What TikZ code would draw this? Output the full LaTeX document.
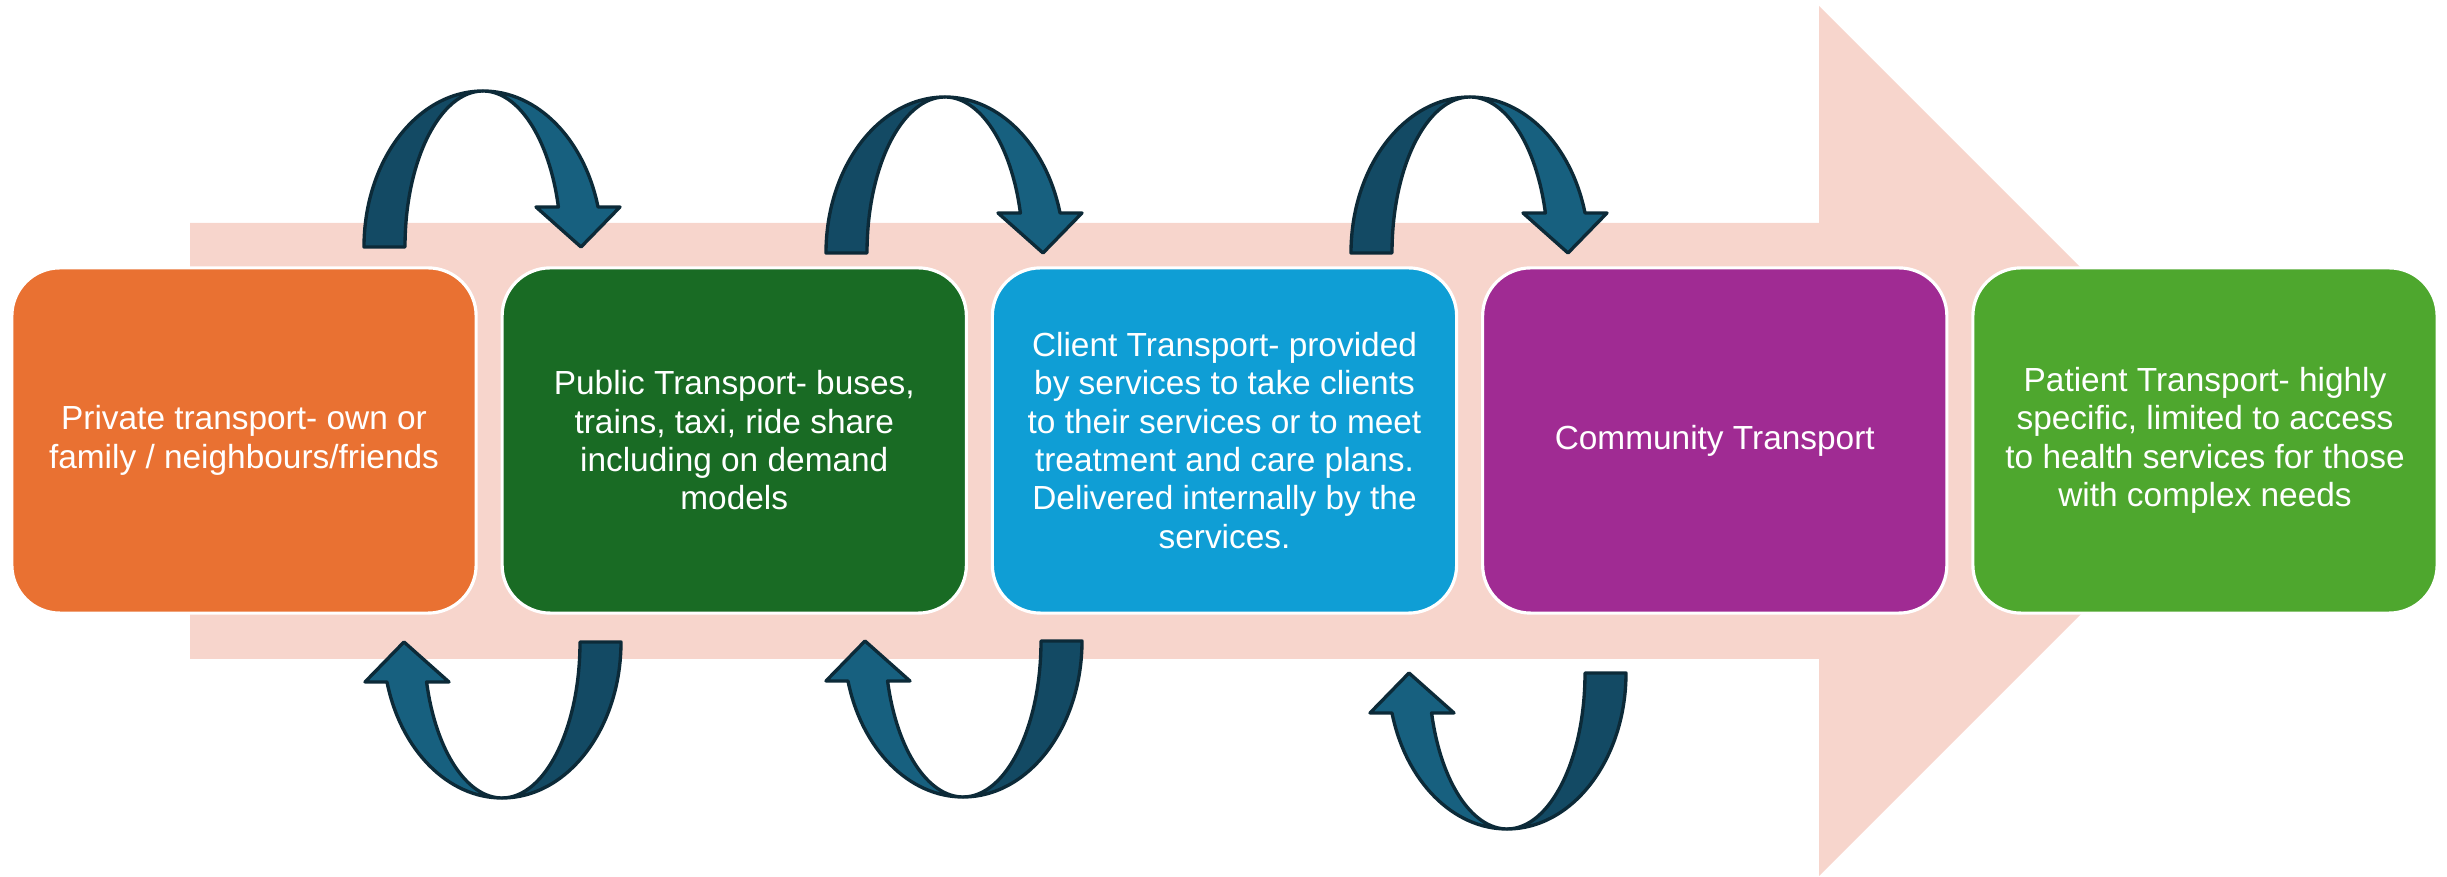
\documentclass[tikz,border=0pt]{standalone}
\usepackage{fontspec}
\setmainfont{Liberation Sans}
\definecolor{shaftpink}{HTML}{F7D5CC}
\definecolor{stageorange}{HTML}{E97132}
\definecolor{stagedarkgreen}{HTML}{196B24}
\definecolor{stageblue}{HTML}{0F9ED5}
\definecolor{stagepurple}{HTML}{A02B93}
\definecolor{stagegreen}{HTML}{4EA72E}
\definecolor{loopfront}{HTML}{17607F}
\definecolor{loopback}{HTML}{134A64}
\definecolor{loopline}{HTML}{0C2A38}
\begin{document}
\begin{tikzpicture}[x=0.01cm,y=-0.01cm,
  stage/.style={rounded corners=0.48cm, draw=white, line width=0.9pt,
    minimum width=4.64cm, minimum height=3.45cm, inner sep=0pt,
    text=white, align=center, font=\fontsize{9.5}{10.9}\selectfont},
  loopedge/.style={draw=loopline, line width=0.95pt, line join=round},
  % curved arrow: origin at the middle of its base, rising by 156 units
  looparrow/.pic={
    \path[loopedge, fill=loopback]
      (-119,0) arc[start angle=180, end angle=270, x radius=119, y radius=156]
      arc[start angle=270, end angle=180, x radius=78, y radius=156] -- cycle;
    \path[loopedge, fill=loopfront]
      (0,-156) arc[start angle=270, end angle=345.14, x radius=119, y radius=156]
      -- (137,-40) -- (98,0) -- (53,-40) -- (75.4,-40)
      arc[start angle=345.14, end angle=270, x radius=78, y radius=156] -- cycle;
  }]
\useasboundingbox (0,0) rectangle (2447,877);

% wide background arrow
\fill[shaftpink] (190,223) -- (1819,223) -- (1819,6) -- (2254,441)
  -- (1819,876) -- (1819,659) -- (190,659) -- cycle;

% stages
\node[stage, fill=stageorange] (b1) at (244,440.5)
  {Private transport- own or\\family / neighbours/friends};
\node[stage, fill=stagedarkgreen] (b2) at (734.25,440.5)
  {Public Transport- buses,\\trains, taxi, ride share\\including on demand\\models};
\node[stage, fill=stageblue] (b3) at (1224.5,440.5)
  {Client Transport- provided\\by services to take clients\\to their services or to meet\\treatment and care plans.\\Delivered internally by the\\services.};
\node[stage, fill=stagepurple] (b4) at (1714.75,440.5)
  {Community Transport};
\node[stage, fill=stagegreen] (b5) at (2205,440.5)
  {Patient Transport- highly\\specific, limited to access\\to health services for those\\with complex needs};

% loops above the stages
\pic at (483,247) {looparrow};
\pic at (945,253) {looparrow};
\pic at (1470,253) {looparrow};

% loops below the stages
\pic[rotate=180] at (502,642) {looparrow};
\pic[rotate=180] at (963,641) {looparrow};
\pic[rotate=180] at (1507,673) {looparrow};
\end{tikzpicture}
\end{document}
